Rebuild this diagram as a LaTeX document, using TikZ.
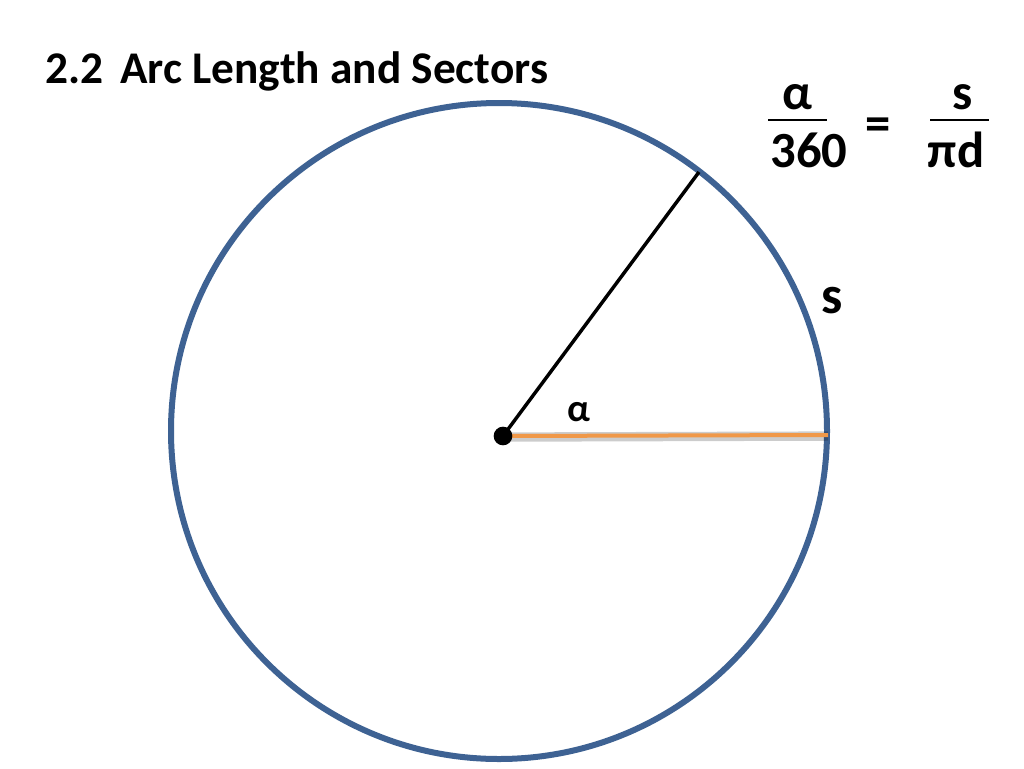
\documentclass[tikz,border=0pt]{standalone}
\usepackage{fontspec}
\setmainfont{Carlito}
\definecolor{rimblue}{RGB}{62,98,147}
\definecolor{radorange}{RGB}{240,152,72}
\definecolor{shade}{RGB}{150,165,135}
\begin{document}
\begin{tikzpicture}[x=0.75pt, y=-0.75pt]
      \tikzstyle{every node}=[inner sep=0pt, font=\bfseries]
      \tikzstyle{rim}=[draw=rimblue, line width=4.5pt]
      \tikzstyle{ray}=[draw=black, line width=2.6pt]
      \tikzstyle{bar}=[draw=black, line width=1.8pt]
      \useasboundingbox (0,0) rectangle (1024,768);

      % title
      \path (45,83) node[anchor=base west, font=\bfseries\fontsize{34}{40}\selectfont]
        (title) {2.2\hspace{0.15em} Arc Length and Sectors};

      % circle and the two radii
      \draw[rim] (499,431) circle (328);
      \coordinate (o) at (503,436);
      \coordinate (p) at (699,172);
      \coordinate (q) at (828,435);

      \draw[line width=7pt, shade, opacity=0.2] ([yshift=-0.8pt]o) -- ([yshift=-0.8pt]q);
      \draw[ray] (o) -- (p);
      \draw[draw=radorange, line width=3pt] (o) -- (q);
      \path (o) node[circle, fill=black, minimum size=14pt] (dot) {};

      \path (579,412) node[font=\bfseries\fontsize{29}{30}\selectfont] (alpha) {α};
      \path (832,301) node[font=\bfseries\fontsize{40}{44}\selectfont] (s) {s};

      % formula
      \tikzstyle{every node}=[inner sep=0pt, font=\bfseries\fontsize{38}{42}\selectfont]
      \path (797,97) node (num1) {α};
      \path (809,150) node (den1) {360};
      \path (878,129) node (eq) {=};
      \path (963,97) node (num2) {s};
      \path (956,150) node (den2) {πd};

      \foreach \a/\b in {768/827, 930/989}
      {
        \draw[bar] (\a,120) -- (\b,120);
      }
    \end{tikzpicture}
\end{document}
